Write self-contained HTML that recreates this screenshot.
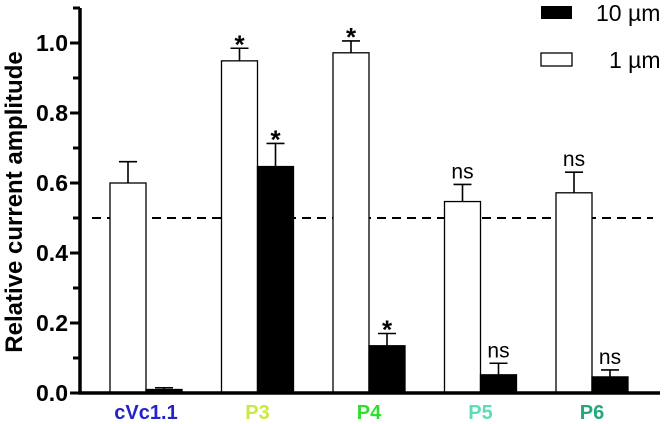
<!DOCTYPE html>
<html><head><meta charset="utf-8"><style>
body{margin:0;background:#fff;}
svg{display:block;font-family:"Liberation Sans",Arial,sans-serif;}
</style></head><body>
<svg id="chart" width="665" height="424"></svg>
<script>
const categories=["cVc1.1","P3","P4","P5","P6"];
const catColors=["#2323c8","#c8ea3c","#2ee02e","#5cdcb8","#24a878"];
const low=[0.60,0.949,0.972,0.547,0.572];
const lowErr=[0.061,0.036,0.034,0.049,0.059];
const high=[0.01,0.647,0.135,0.052,0.046];
const highErr=[0.005,0.066,0.035,0.033,0.02];
const lowSig=["","*","*","ns","ns"];
const highSig=["","*","*","ns","ns"];
const yTicks=[0,0.2,0.4,0.6,0.8,1.0];
const threshold=[0.5];
const NS="http://www.w3.org/2000/svg";
const svg=document.getElementById('chart');
const y0=393,ppu=350;
const Y=v=>y0-v*ppu;
const X=i=>110+i*111.5;
const bw=36;
function el(t,a,txt){const e=document.createElementNS(NS,t);for(const k in a)e.setAttribute(k,a[k]);if(txt!==undefined)e.textContent=txt;svg.appendChild(e);return e;}
const d=el('line',{x1:92,x2:653,y1:Y(threshold[0]),y2:Y(threshold[0]),stroke:'#000','stroke-width':2,'stroke-dasharray':'9,6'});


function bar(i,v,e,sig,fill,off,name){
  const x=X(i)+off;
  const r=el('rect',{x:x,y:Y(v),width:bw,height:y0-Y(v),fill:fill,stroke:'#000','stroke-width':1.3});
  
  
  const cx=x+bw/2,top=Y(v+e);
  const eb=el('path',{d:`M${cx} ${Y(v)}V${top}M${cx-9} ${top}H${cx+9}`,stroke:'#000','stroke-width':1.6,fill:'none'});
  
  
  if(sig){
    const star=sig==='*';
    const t=el('text',{x:cx,y:star?top+5:top-6,'text-anchor':'middle','font-size':star?26:21,'font-weight':star?'bold':'normal'},sig);
    
    
  }
}
categories.forEach((c,i)=>{
  bar(i,low[i],lowErr[i],lowSig[i],'#fff',0,'bar-1um');
  bar(i,high[i],highErr[i],highSig[i],'#000',bw,'bar-10um');
  const t=el('text',{x:X(i)+bw,y:419,'text-anchor':'middle','font-size':20,'font-weight':'bold',fill:catColors[i]},c);
  
  
});
const ax=el('path',{d:`M80 8V${y0}H660`,stroke:'#000','stroke-width':3.5,fill:'none'});


for(let k=0;k<=11;k++){
  const v=k/10;
  const tk=el('line',{x1:k%2===0?70:73,x2:80,y1:Y(v),y2:Y(v),stroke:'#000','stroke-width':3});
  
  
}
yTicks.forEach(v=>{
  const t=el('text',{x:68,y:Y(v)+8,'text-anchor':'end','font-size':23,'font-weight':'bold'},v.toFixed(1));
  
  
});
const yl=el('text',{x:0,y:0,transform:'translate(22,202) rotate(-90)','text-anchor':'middle','font-size':24,'font-weight':'bold'},'Relative current amplitude');


const l1=el('rect',{x:541,y:6,width:31,height:13,fill:'#000'});


const l1t=el('text',{x:596,y:21,'font-size':23},'10 µm');


const l2=el('rect',{x:541,y:53,width:31,height:13,fill:'#fff',stroke:'#000','stroke-width':1.3});


const l2t=el('text',{x:609,y:68,'font-size':23},'1 µm');


</script>
</body></html>
